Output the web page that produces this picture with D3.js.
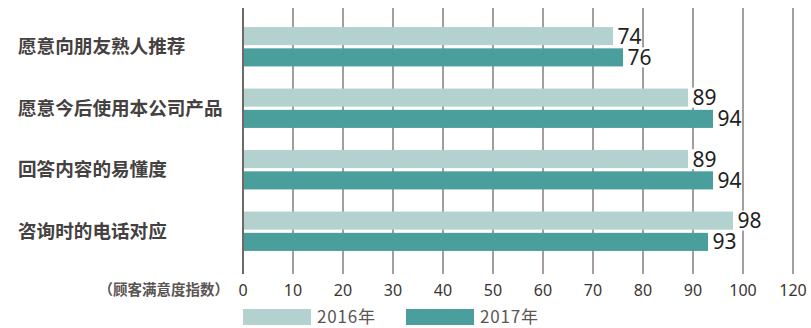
<!DOCTYPE html>
<meta charset="utf-8">
<script src="https://d3js.org/d3.v7.min.js"></script>
<style>
  body { margin: 0; background: #fff; }
</style>
<div id="chart"></div>
<script>

// data
var categories = ["愿意向朋友熟人推荐", "愿意今后使用本公司产品", "回答内容的易懂度", "咨询时的电话对应"];
var years = ["2016年", "2017年"];
var values2016 = [74, 89, 89, 98];
var values2017 = [76, 94, 94, 93];
var tickValues = [0, 10, 20, 30, 40, 50, 60, 70, 80, 90, 100, 110];
var tickLabels = ["0", "10", "20", "30", "40", "50", "60", "70", "80", "90", "100", "120"];

var colors = ["#b2d1cf", "#4a9e9c"];

var width = 811, height = 328;

var svg = d3.select("#chart")
  .append("svg")
    .attr("width", width)
    .attr("height", height);

var x = d3.scaleLinear()
  .domain([0, 110])
  .range([243, 793]);

var y = d3.scaleBand()
  .domain(categories)
  .range([16, 262])
  .paddingInner(0.36)
  .paddingOuter(0.18);

var ySub = d3.scaleBand()
  .domain(years)
  .range([0, y.bandwidth()])
  .paddingInner(0.15);

// gridlines
svg.append("g")
  .selectAll("line")
  .data(tickValues)
  .enter()
  .append("line")
    .attr("x1", function(d){ return x(d) })
    .attr("x2", function(d){ return x(d) })
    .attr("y1", 8)
    .attr("y2", 274)
    .attr("stroke", function(d){ return d == 0 ? "#4a4442" : "#8c8584" })
    .attr("stroke-width", 1.6);

// tick labels
svg.append("g")
  .selectAll("text")
  .data(tickValues)
  .enter()
  .append("text")
    .attr("x", function(d){ return x(d) })
    .attr("y", 296)
    .attr("text-anchor", "middle")
    .attr("font-family", "Noto Sans, sans-serif")
    .attr("font-size", "16px")
    .attr("fill", "#3a3533")
    .text(function(d, i){ return tickLabels[i] });

svg.append("text")
  .attr("x", 229)
  .attr("y", 295)
  .attr("text-anchor", "end")
  .attr("font-family", "Noto Sans CJK SC")
  .attr("font-size", "14.5px")
  .attr("font-weight", "bold")
  .attr("fill", "#5a5553")
  .text("（顾客满意度指数）");

// category labels
svg.append("g")
  .selectAll("text")
  .data(categories)
  .enter()
  .append("text")
    .attr("x", 18)
    .attr("y", function(d){ return y(d) + y.bandwidth() / 2 })
    .attr("dy", "0.36em")
    .attr("font-family", "Noto Sans CJK SC")
    .attr("font-size", "18.6px")
    .attr("font-weight", "bold")
    .attr("fill", "#454141")
    .text(function(d){ return d });

// bars
var rows = [];
categories.forEach(function(c, i) {
  rows.push({cat: c, year: years[0], value: values2016[i], k: 0});
  rows.push({cat: c, year: years[1], value: values2017[i], k: 1});
});

svg.append("g")
  .selectAll("rect")
  .data(rows)
  .enter()
  .append("rect")
    .attr("x", x(0) + 1)
    .attr("y", function(d){ return y(d.cat) + ySub(d.year) })
    .attr("width", function(d){ return x(d.value) - x(0) - 1 })
    .attr("height", ySub.bandwidth())
    .attr("fill", function(d){ return colors[d.k] });

// value labels with white backing
var labels = svg.append("g")
  .selectAll("g")
  .data(rows)
  .enter()
  .append("g")
    .attr("transform", function(d){
      return "translate(" + (x(d.value) + 2) + "," + (y(d.cat) + ySub(d.year) + ySub.bandwidth() / 2) + ")";
    });

labels.append("rect")
  .attr("x", 0)
  .attr("y", -10)
  .attr("width", 27)
  .attr("height", 20)
  .attr("fill", "#fff");

labels.append("text")
  .attr("x", 2.5)
  .attr("dy", "0.36em")
  .attr("font-family", "Noto Sans, sans-serif")
  .attr("font-size", "21px")
  .attr("fill", "#231f1e")
  .text(function(d){ return d.value });

// legend
var legend = svg.append("g")
  .selectAll("g")
  .data(years)
  .enter()
  .append("g")
    .attr("transform", function(d, i){ return "translate(" + (243 + i * 163) + ",309)" });

legend.append("rect")
  .attr("width", 68)
  .attr("height", 16)
  .attr("fill", function(d, i){ return colors[i] });

legend.append("text")
  .attr("x", 74)
  .attr("y", 8)
  .attr("dy", "0.36em")
  .attr("font-family", "Noto Sans CJK SC")
  .attr("font-size", "17px")
  .attr("letter-spacing", "0.8px")
  .attr("fill", "#5a5553")
  .text(function(d){ return d });

</script>
